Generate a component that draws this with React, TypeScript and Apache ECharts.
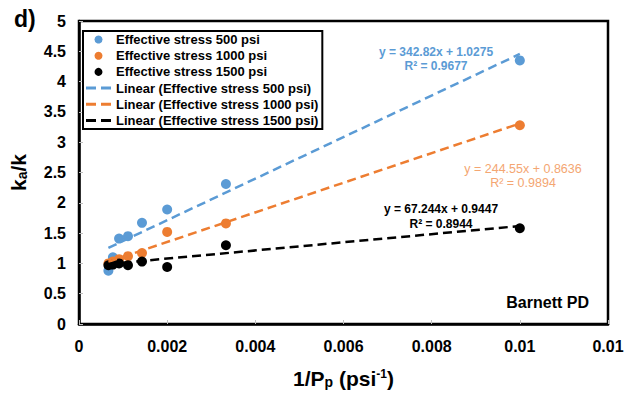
import React, { useEffect, useRef } from "react";
import * as echarts from "echarts";

const xValues = [0.000667, 0.000769, 0.000909, 0.001111, 0.001429, 0.002, 0.003333, 0.01];
const stress500 = [0.88, 1.1, 1.41, 1.45, 1.67, 1.89, 2.31, 4.35];
const stress1000 = [1.0, 1.03, 1.07, 1.12, 1.17, 1.52, 1.66, 3.28];
const stress1500 = [0.97, 0.98, 1.0, 0.97, 1.03, 0.94, 1.3, 1.58];

const trendX = [0.000667, 0.01];
const trend500 = [1.256, 4.456];
const trend1000 = [1.027, 3.309];
const trend1500 = [0.99, 1.617];

const xTickLabels = ["0", "0.002", "0.004", "0.006", "0.008", "0.01", "0.01"];
const yTickLabels = ["0", "0.5", "1", "1.5", "2", "2.5", "3", "3.5", "4", "4.5", "5"];

const seriesNames = [
  "Effective stress 500 psi",
  "Effective stress 1000 psi",
  "Effective stress 1500 psi",
  "Linear (Effective stress 500 psi)",
  "Linear (Effective stress 1000 psi)",
  "Linear (Effective stress 1500 psi)",
];
const colors = ["#5B9BD5", "#ED7D31", "#000000"];

const FONT = "'Liberation Sans', Arial, sans-serif";
const DASH_ICON = "path://M0,0h10v3h-10zM15,0h10v3h-10z";

export default function App() {
  const ref = useRef<HTMLDivElement>(null);
  useEffect(() => {
    const chart = echarts.init(ref.current!, null, { renderer: "svg" });
    const pts = (ys: number[]) => xValues.map((x, i) => [x, ys[i]]);
    const tr = (ys: number[]) => trendX.map((x, i) => [x, ys[i]]);
    const scatter = (name: string, ys: number[], color: string, z: number) => ({
      type: "scatter",
      name,
      data: pts(ys),
      symbolSize: 10,
      itemStyle: { color, opacity: 1 },
      z,
    });
    const line = (name: string, ys: number[], color: string) => ({
      type: "line",
      name,
      data: tr(ys),
      symbol: "none",
      lineStyle: { color, width: 2.5, type: [9, 5] },
      itemStyle: { color },
      z: 5,
    });
    const bold = { fontWeight: "bold", color: "#000", fontFamily: FONT };
    chart.setOption({
      animation: false,
      textStyle: { fontFamily: FONT },
      grid: {
        left: 72,
        right: 26,
        top: 21,
        bottom: 68,
        show: true,
        borderColor: "#000",
        borderWidth: 2.5,
      },
      xAxis: {
        type: "value",
        min: 0,
        max: 0.012,
        interval: 0.002,
        splitLine: { show: false },
        axisLine: { show: true, onZero: false, lineStyle: { color: "#000", width: 2.5 } },
        axisTick: { show: true, inside: true, length: 4, lineStyle: { color: "#bfbfbf" } },
        axisLabel: {
          ...bold,
          fontSize: 16,
          margin: 14,
          formatter: (v: number) => xTickLabels[Math.round(v / 0.002)],
        },
        name: "{a|1/P}{sub|p}{a| (psi}{sup|-1}{a|)}",
        nameLocation: "middle",
        nameGap: 44,
        nameTextStyle: {
          rich: {
            a: { ...bold, fontSize: 21, lineHeight: 21, verticalAlign: "middle" },
            sub: { ...bold, fontSize: 14, lineHeight: 14, verticalAlign: "bottom" },
            sup: { ...bold, fontSize: 12, lineHeight: 12, verticalAlign: "top" },
          },
        },
      },
      yAxis: {
        type: "value",
        min: 0,
        max: 5,
        interval: 0.5,
        splitLine: { show: false },
        axisLine: { show: true, lineStyle: { color: "#000", width: 2.5 } },
        axisTick: { show: true, inside: true, length: 4, lineStyle: { color: "#bfbfbf" } },
        axisLabel: {
          ...bold,
          fontSize: 16,
          margin: 13,
          formatter: (v: number) => yTickLabels[Math.round(v / 0.5)],
        },
        name: "{a|k}{sub|a}{a|/k}",
        nameLocation: "middle",
        nameGap: 50,
        nameRotate: 90,
        nameTextStyle: {
          rich: {
            a: { ...bold, fontSize: 21, lineHeight: 21, verticalAlign: "middle" },
            sub: { ...bold, fontSize: 14, lineHeight: 14, verticalAlign: "bottom" },
          },
        },
      },
      legend: {
        orient: "vertical",
        left: 83,
        top: 31,
        backgroundColor: "#fff",
        borderColor: "#000",
        borderWidth: 2,
        padding: [2, 4, 2, 3],
        itemWidth: 25,
        itemHeight: 8,
        itemGap: 3.2,
        data: seriesNames.map((n, i) =>
          i < 3 ? { name: n, icon: "circle" } : { name: n, icon: DASH_ICON }
        ),
        textStyle: { ...bold, fontSize: 13, lineHeight: 13 },
      },
      graphic: [
        { type: "text", left: 14, top: 7, style: { text: "d)", fontSize: 23, fontWeight: "bold", fill: "#000", fontFamily: FONT } },
        { type: "text", x: 436, y: 52, style: { text: "y = 342.82x + 1.0275", fontSize: 12, fontWeight: "bold", fill: "#5B9BD5", fontFamily: FONT, align: "center", verticalAlign: "middle" } },
        { type: "text", x: 436, y: 66, style: { text: "R² = 0.9677", fontSize: 12, fontWeight: "bold", fill: "#5B9BD5", fontFamily: FONT, align: "center", verticalAlign: "middle" } },
        { type: "text", x: 523, y: 169, style: { text: "y = 244.55x + 0.8636", fontSize: 12.5, fill: "#F4A672", fontFamily: FONT, align: "center", verticalAlign: "middle" } },
        { type: "text", x: 523, y: 183, style: { text: "R² = 0.9894", fontSize: 12.5, fill: "#F4A672", fontFamily: FONT, align: "center", verticalAlign: "middle" } },
        { type: "text", x: 441, y: 209, style: { text: "y = 67.244x + 0.9447", fontSize: 12, fontWeight: "bold", fill: "#000", fontFamily: FONT, align: "center", verticalAlign: "middle" } },
        { type: "text", x: 441, y: 224, style: { text: "R² = 0.8944", fontSize: 12, fontWeight: "bold", fill: "#000", fontFamily: FONT, align: "center", verticalAlign: "middle" } },
        { type: "text", x: 589, y: 302, style: { text: "Barnett PD", fontSize: 16, fontWeight: "bold", fill: "#000", fontFamily: FONT, align: "right", verticalAlign: "middle" } },
      ],
      series: [
        scatter(seriesNames[0], stress500, colors[0], 2),
        scatter(seriesNames[1], stress1000, colors[1], 3),
        scatter(seriesNames[2], stress1500, colors[2], 4),
        line(seriesNames[3], trend500, colors[0]),
        line(seriesNames[4], trend1000, colors[1]),
        line(seriesNames[5], trend1500, colors[2]),
      ],
    });
    return () => chart.dispose();
  }, []);
  return (
    <div
      ref={ref}
      style={{ position: "fixed", left: 0, top: 0, width: 634, height: 394, background: "#fff" }}
    />
  );
}
